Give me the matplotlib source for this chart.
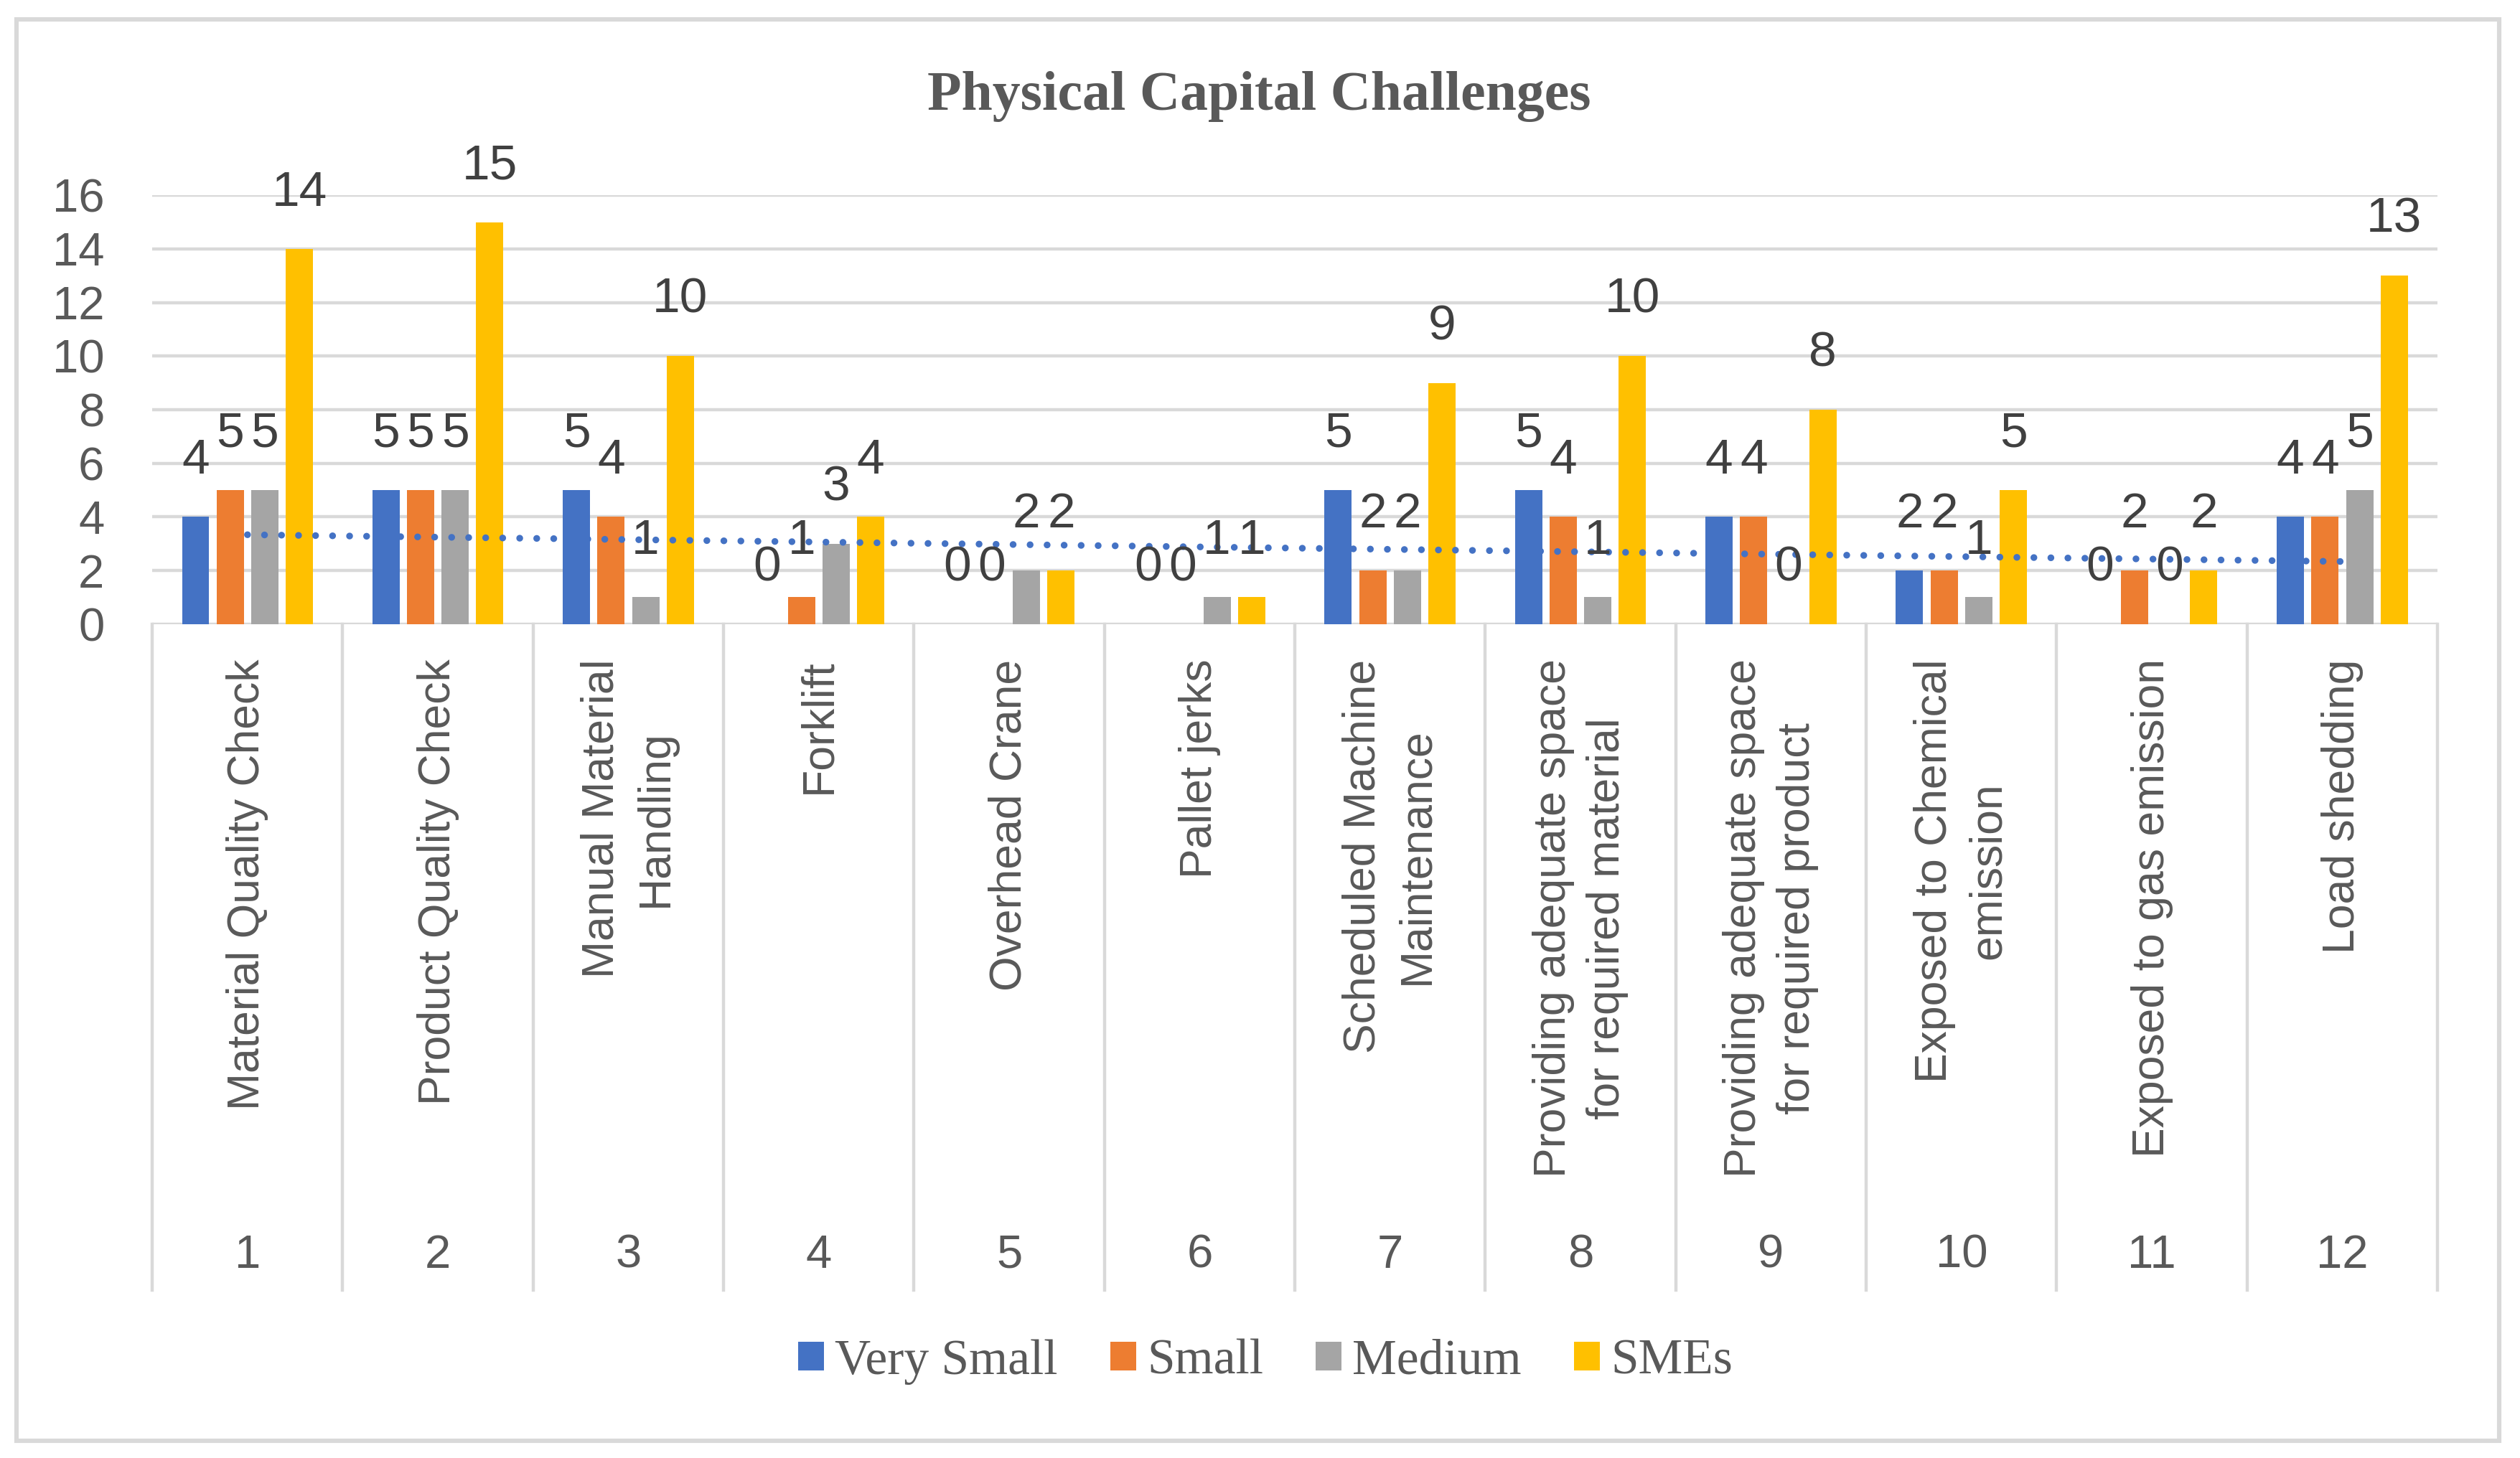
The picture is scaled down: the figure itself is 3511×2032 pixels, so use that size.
import matplotlib
matplotlib.use("Agg")
import matplotlib.pyplot as plt
import matplotlib.transforms as mtransforms
from matplotlib.patches import Rectangle
import numpy as np

# data
categories = ["Material Quality Check", "Product Quality Check",
              "Manual Material\nHandling", "Forklift", "Overhead Crane",
              "Pallet jerks", "Scheduled Machine\nMaintenance",
              "Providing adequate space\nfor required material",
              "Providing adequate space\nfor required product",
              "Exposed to Chemical\nemission", "Exposed to gas emission",
              "Load shedding"]
cat_numbers = [1, 2, 3, 4, 5, 6, 7, 8, 9, 10, 11, 12]
very_small = [4, 5, 5, 0, 0, 0, 5, 5, 4, 2, 0, 4]
small = [5, 5, 4, 1, 0, 0, 2, 4, 4, 2, 2, 4]
medium = [5, 5, 1, 3, 2, 1, 2, 1, 0, 1, 0, 5]
smes = [14, 15, 10, 4, 2, 1, 9, 10, 8, 5, 2, 13]
series_names = ["Very Small", "Small", "Medium", "SMEs"]
colors = ["#4472C4", "#ED7D31", "#A5A5A5", "#FFC000"]

sans = ["Liberation Sans", "DejaVu Sans"]
serif = ["Liberation Serif", "DejaVu Serif"]
grey = "#D9D9D9"

fig = plt.figure(figsize=(17.56, 10.16), dpi=200)
ax = fig.add_axes([0.0604, 0.572, 0.9066, 0.294])

x = np.arange(len(categories))
pitch = 0.1817
width = 0.143
all_series = [very_small, small, medium, smes]
for k, (vals, name, c) in enumerate(zip(all_series, series_names, colors)):
    xs = x + (k - 1.5) * pitch
    ax.bar(xs, vals, width=width, color=c, label=name, zorder=2)
    for xi, v in zip(xs, vals):
        ax.text(xi, v + 2.1, str(v), ha="center", va="center",
                fontsize=25, color="#404040", family=sans, zorder=4)

# linear trendline for Very Small
coef = np.polyfit(cat_numbers, very_small, 1)
trend = np.polyval(coef, cat_numbers)
ax.plot(x, trend, color="#4472C4", lw=3.4, linestyle=(0, (0.01, 2.5)),
        dash_capstyle="round", zorder=3)

ax.set_xlim(-0.5, len(categories) - 0.5)
ax.set_ylim(0, 16)
ax.set_yticks(np.arange(0, 17, 2))
ax.set_xticks([])
ax.yaxis.grid(True, color=grey, lw=1.6)
ax.set_axisbelow(True)
for s in ax.spines.values():
    s.set_visible(False)
ax.tick_params(axis="y", length=0, pad=24, labelsize=23.5, labelcolor="#595959")
for lab in ax.get_yticklabels():
    lab.set_family(sans)

# multi level category axis
trans = mtransforms.blended_transform_factory(ax.transData, fig.transFigure)
for i in range(len(categories) + 1):
    ax.plot([i - 0.5, i - 0.5], [0.572, 0.115], transform=trans, color=grey,
            lw=1.6, clip_on=False)
for xi, name, num in zip(x, categories, cat_numbers):
    ax.text(xi, 0.548, name, transform=trans, rotation=90, ha="center",
            va="top", multialignment="center", linespacing=1.35,
            fontsize=22.5, color="#595959", family=sans)
    ax.text(xi, 0.139, str(num), transform=trans, ha="center", va="center",
            fontsize=23.5, color="#595959", family=sans)

fig.text(0.4994, 0.934, "Physical Capital Challenges", ha="center",
         va="center", fontsize=28, fontweight="bold", color="#595959",
         family=serif)

leg = fig.legend(loc="center", bbox_to_anchor=(0.502, 0.066), ncol=4,
                 frameon=False, handlelength=0.52, handleheight=0.52,
                 handletextpad=0.22, columnspacing=1.05,
                 prop={"family": serif, "size": 25})
for t in leg.get_texts():
    t.set_color("#595959")

fig.patches.append(Rectangle((0.0065, 0.0118), 0.985, 0.975,
                             transform=fig.transFigure, fill=False,
                             ec=grey, lw=2.2))

fig.savefig("out.png", dpi=200, facecolor="white")
